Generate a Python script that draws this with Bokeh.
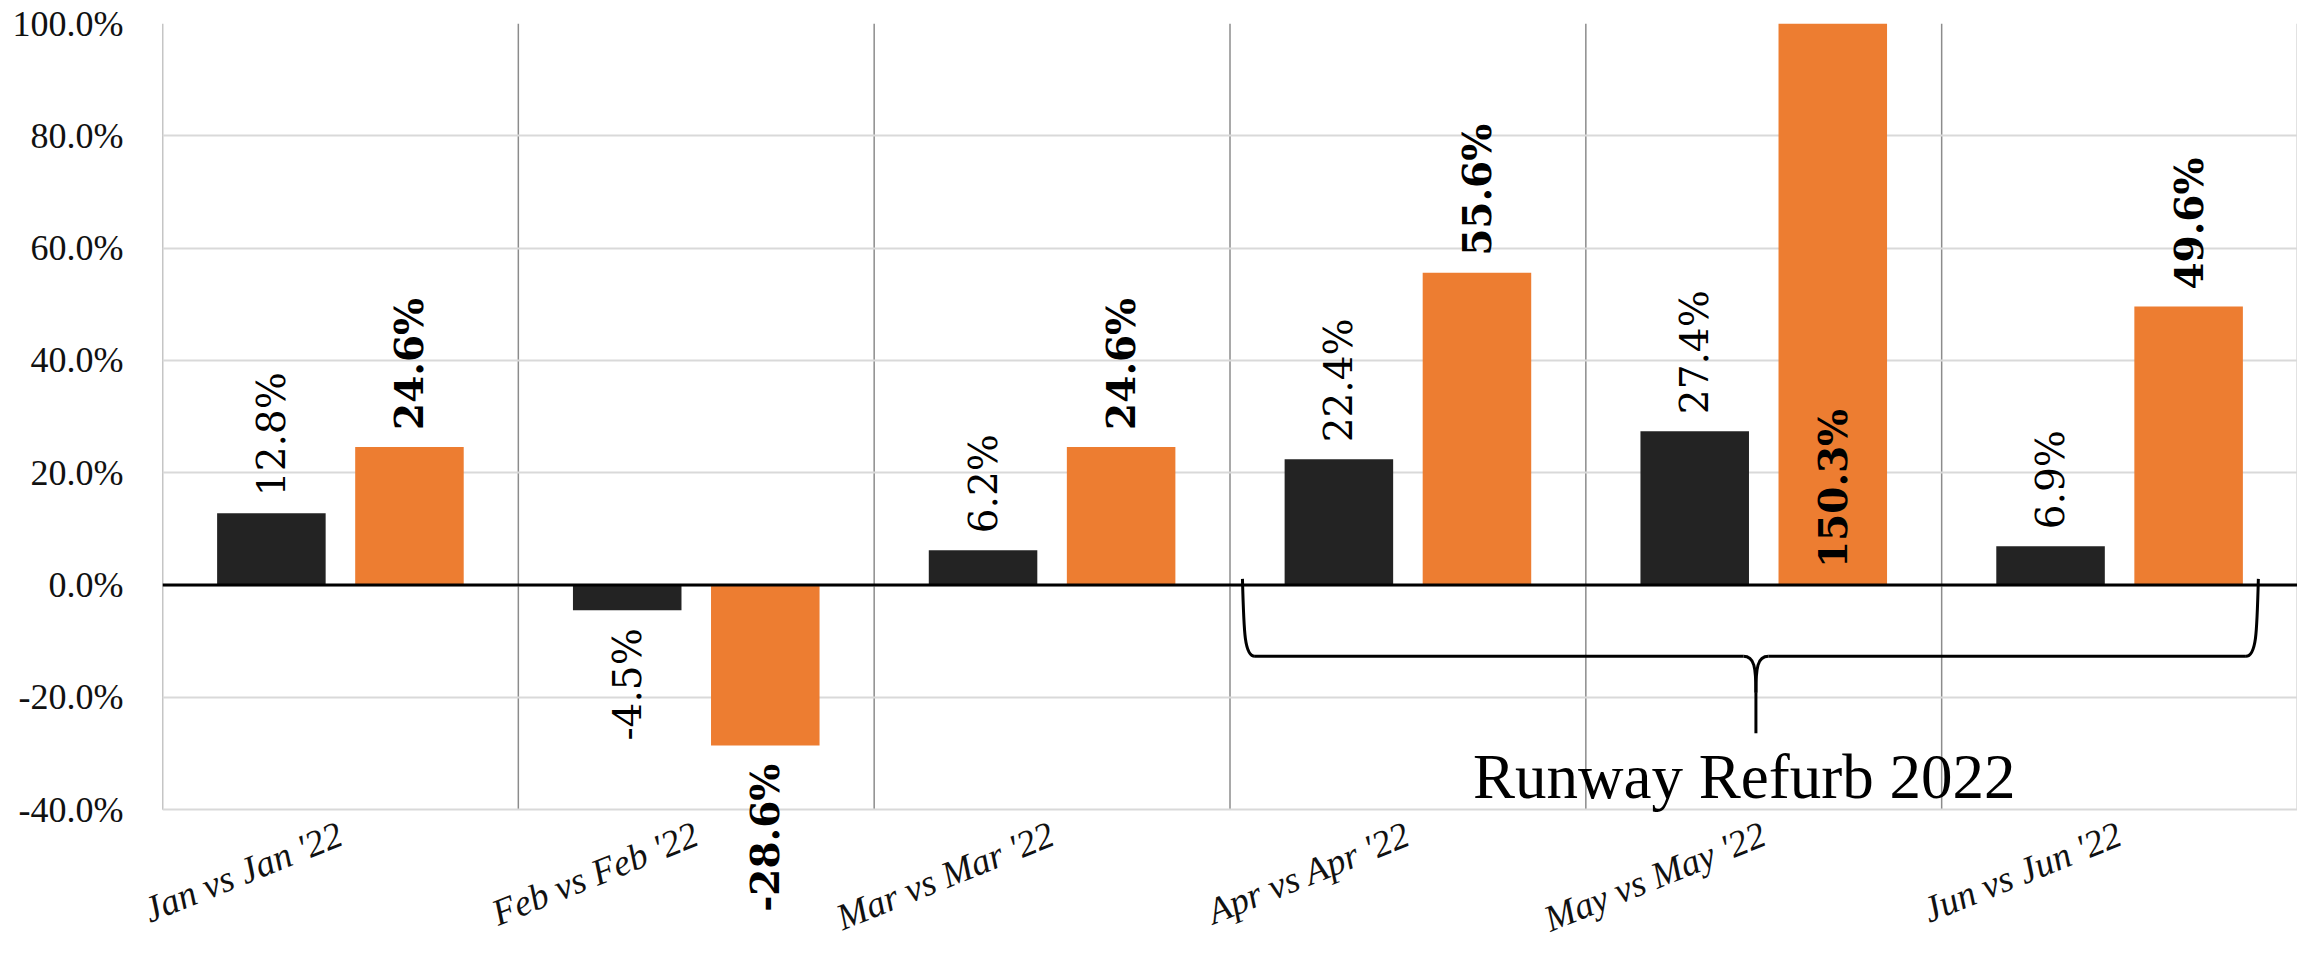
import math
from bokeh.plotting import figure
from bokeh.models import (ColumnDataSource, FactorRange, Range1d, FixedTicker,
                          NumeralTickFormatter, LabelSet, Label, Span)
from bokeh.transform import dodge
from bokeh.core.properties import value
from bokeh.embed import file_html
from bokeh.resources import INLINE

# ---------------- data ----------------
categories = ["Jan vs Jan '22", "Feb vs Feb '22", "Mar vs Mar '22",
              "Apr vs Apr '22", "May vs May '22", "Jun vs Jun '22"]
series_dark = [0.128, -0.045, 0.062, 0.224, 0.274, 0.069]
series_orange = [0.246, -0.286, 0.246, 0.556, 1.503, 0.496]
y_ticks = [-0.4, -0.2, 0.0, 0.2, 0.4, 0.6, 0.8, 1.0]
annotation_text = "Runway Refurb 2022"

# ---------------- layout / style ----------------
AXIS_MIN, AXIS_MAX = -0.4, 1.0      # visible value axis
VIEW_MIN = -0.601                   # frame extends below axis so labels are not clipped
DARK = "#232323"
ORANGE = "#ED7D31"
BAR_W = 0.305
OFF = 0.194

p = figure(x_range=FactorRange(*categories), y_range=Range1d(VIEW_MIN, AXIS_MAX),
           frame_width=2135, frame_height=899, output_backend="svg",
           toolbar_location=None,
           min_border_left=162, min_border_right=0, min_border_top=23,
           min_border_bottom=0)
p.outline_line_color = None
p.background_fill_color = "white"

# grid
p.xgrid.grid_line_color = None
p.yaxis.ticker = FixedTicker(ticks=y_ticks)
p.ygrid.grid_line_color = "#d9d9d9"
p.ygrid.grid_line_width = 2
n = len(categories)
p.segment(x0=list(range(n + 1)), y0=AXIS_MIN, x1=list(range(n + 1)), y1=AXIS_MAX,
          line_color="#8c8c8c", line_width=1.5, level="underlay")

# value axis
p.yaxis.formatter = NumeralTickFormatter(format="0.0%")
p.yaxis.axis_line_color = None
p.yaxis.major_tick_line_color = None
p.yaxis.minor_tick_line_color = None
p.yaxis.major_label_standoff = 33
p.yaxis.major_label_text_font = "Liberation Serif"
p.yaxis.major_label_text_font_size = "36px"
p.yaxis.major_label_text_color = "#111111"

# category axis: labels pulled up (negative standoff) to sit under the -40% line
p.xaxis.axis_line_color = None
p.xaxis.major_tick_line_color = None
p.xaxis.major_tick_in = 0
p.xaxis.major_tick_out = 0
p.xaxis.major_label_orientation = math.radians(22)
p.xaxis.major_label_standoff = -90
p.xaxis.major_label_text_font = "Liberation Serif"
p.xaxis.major_label_text_font_style = "italic"
p.xaxis.major_label_text_font_size = "37px"
p.xaxis.major_label_text_color = "#111111"

# bars
src = ColumnDataSource(dict(cat=categories, dark=series_dark, orange=series_orange))
p.vbar(x=dodge("cat", -OFF, range=p.x_range), top="dark", bottom=0, width=BAR_W,
       fill_color=DARK, line_color=None, source=src)
p.vbar(x=dodge("cat", OFF, range=p.x_range), top="orange", bottom=0, width=BAR_W,
       fill_color=ORANGE, line_color=None, source=src)

# zero line
p.add_layout(Span(location=0, dimension="width", line_color="black", line_width=3))


def add_labels(vals, offset, bold):
    pos = dict(cat=[], y=[], text=[])
    neg = dict(cat=[], y=[], text=[])
    for c, v in zip(categories, vals):
        t = f"{v * 100:.1f}%"
        if v >= 0:
            pos["cat"].append(c)
            pos["y"].append(v if v <= AXIS_MAX else 0.0)
            pos["text"].append(t)
        else:
            neg["cat"].append(c)
            neg["y"].append(v)
            neg["text"].append(t)
    style = "bold" if bold else "normal"
    for d, align, yoff in ((pos, "left", 17), (neg, "right", -18)):
        ls = LabelSet(x=dodge("cat", offset, range=p.x_range), y="y", text="text",
                      source=ColumnDataSource(d), angle=math.pi / 2,
                      text_align=align, text_baseline="middle", y_offset=yoff,
                      text_font=value("DejaVu Serif"), text_font_style=style,
                      text_font_size="39px", text_color="black")
        p.add_layout(ls)


add_labels(series_dark, -OFF, False)
add_labels(series_orange, OFF, True)

# brace annotation spanning Apr..Jun
BX_L, BX_C, BX_R = 3.035, 4.478, 5.89
BY_TOP, BY_MID, BY_TIP = 0.011, -0.127, -0.264
DX = 0.035
p.bezier(x0=[BX_L, BX_C - DX, BX_C + DX, BX_R - DX],
         y0=[BY_TOP, BY_MID, BY_MID, BY_MID],
         x1=[BX_L + DX, BX_C, BX_C, BX_R],
         y1=[BY_MID, BY_MID - 0.065, BY_MID - 0.065, BY_TOP],
         cx0=[BX_L + 0.004, BX_C - 0.004, BX_C + 0.004, BX_R - 0.006],
         cy0=[BY_MID + 0.04, BY_MID, BY_MID, BY_MID],
         cx1=[BX_L + 0.006, BX_C, BX_C, BX_R - 0.004],
         cy1=[BY_MID, BY_MID - 0.02, BY_MID - 0.02, BY_MID + 0.04],
         line_color="black", line_width=3)
p.segment(x0=[BX_L + DX, BX_C + DX, BX_C], y0=[BY_MID, BY_MID, BY_MID - 0.065],
          x1=[BX_C - DX, BX_R - DX, BX_C], y1=[BY_MID, BY_MID, BY_TIP],
          line_color="black", line_width=3)

p.add_layout(Label(x=4.445, y=-0.2787, text=annotation_text, text_align="center",
                   text_baseline="top", text_font="Liberation Serif",
                   text_font_size="63px", text_color="black"))

open("out.html", "w").write(file_html(p, INLINE))
